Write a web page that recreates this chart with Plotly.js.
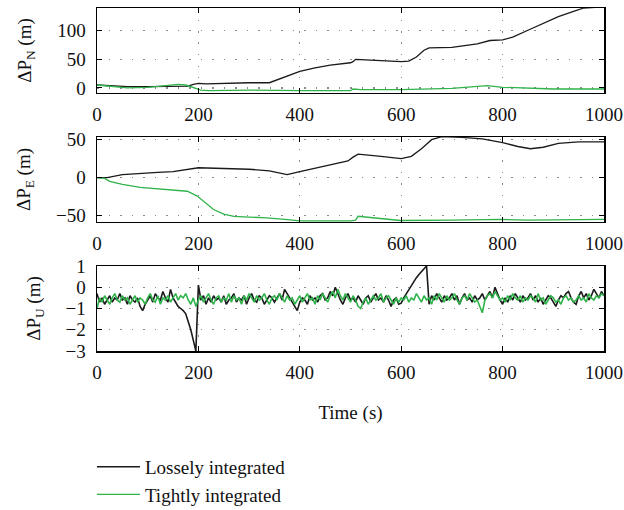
<!DOCTYPE html>
<html>
<head>
<meta charset="utf-8">
<script src="https://cdn.plot.ly/plotly-3.0.1.min.js"></script>
<style>html,body{margin:0;padding:0;background:#fff;}#chart{width:624px;height:510px;}</style>
</head>
<body>
<div id="chart"></div>
<script>
// ---------- data ----------
const seriesNames = ['Lossely integrated', 'Tightly integrated'];

// ΔP_N (m)
const tN_loose = [0,30,60,100,150,180,190,200,215,250,300,340,355,370,385,400,430,460,500,505,510,550,580,600,615,630,645,655,700,750,775,800,820,850,880,910,940,960,1000];
const vN_loose = [5,3,2,2,2,3,6,8,7,8,9,9,14,20,25,29,35,40,44,46,50,49,47,46,47,54,66,70,71,77,83,84,89,101,113,125,134,140,142];
const tN_tight = [0,30,60,100,130,160,175,190,205,220,300,400,500,505,520,600,700,770,800,900,1000];
const vN_tight = [5,3,0,1,3,6,5,0,-4,-5,-4,-5,-5,-2,-3,-3,-1,4,1,-2,-2];

// ΔP_E (m)
const tE_loose = [0,20,50,85,120,150,175,200,250,300,340,375,400,450,495,505,515,560,600,620,640,660,680,720,760,800,830,855,880,910,950,1000];
const vE_loose = [0,0,4,6,7,8,11,13,12,11,9,4,8,15,22,27,31,28,25,28,38,50,54,53,51,46,41,38,40,45,47,47];
const tE_tight = [0,15,25,50,85,120,150,178,197,215,230,250,270,300,335,370,400,500,510,515,530,560,598,700,795,850,900,1000];
const vE_tight = [0,-1,-5,-9,-13,-15,-17,-18,-24,-34,-42,-48,-51,-52,-53,-55,-57,-57,-56,-51,-52,-54,-56.5,-56,-55,-56,-55.5,-55];

// ΔP_U (m), sampled every 5 s from 0 to 1000 s
const tU_step = 5;
const vU_loose = [
 -0.3,-0.7,-0.5,-0.8,-0.6,-0.4,-0.7,-0.5,-0.6,-0.3,
 -0.6,-0.5,-0.8,-0.4,-0.6,-0.7,-0.5,-0.9,-1.1,-0.8,
 -0.6,-0.4,-0.7,-0.3,-0.5,-0.6,-0.2,-0.5,-0.7,-0.1,
 -0.5,-0.7,-0.9,-1.0,-1.1,-1.25,-1.6,-2.0,-2.5,-3.0,
 0.1,-0.6,-0.4,-0.8,-0.5,-0.7,-0.4,-0.6,-0.5,-0.7,
 -0.4,-0.8,-0.6,-0.5,-0.3,-0.7,-0.5,-0.6,-0.4,-0.8,
 -0.5,-0.3,-0.6,-0.7,-0.4,-0.5,-0.8,-0.6,-0.4,-0.5,
 -0.7,-0.5,-0.3,-0.6,-0.1,-0.3,-0.5,-0.7,-0.9,-1.1,
 -0.7,-0.5,-0.6,-0.8,-0.4,-0.6,-0.5,-0.7,-0.4,-0.3,
 -0.6,-0.5,-0.2,-0.4,0.0,-0.3,-0.6,-0.8,-0.5,-0.3,
 -0.6,-0.5,-0.7,-0.4,-0.6,-0.8,-0.5,-0.4,-0.7,-0.5,
 -0.3,-0.6,-0.5,-0.7,-0.4,-0.6,-0.9,-0.6,-0.5,-0.8,
 -0.75,-0.5,-0.3,-0.1,0.1,0.3,0.45,0.6,0.75,0.9,
 1.0,-0.8,-0.4,-0.6,-0.3,-0.5,-0.7,-0.4,-0.6,-0.5,
 -0.3,-0.6,-0.4,-0.8,-0.5,-0.3,-0.6,-0.5,-0.7,-0.4,
 -0.6,-0.5,-0.3,-0.6,-0.4,-0.2,-0.5,0.0,-0.3,-0.6,
 -0.8,-0.5,-0.7,-0.4,-0.6,-0.3,-0.5,-0.7,-0.4,-0.6,
 -0.5,-0.3,-0.6,-0.4,-0.7,-0.5,-0.8,-0.6,-0.4,-0.5,
 -0.7,-0.9,-0.6,-0.4,-0.5,-0.3,-0.2,-0.5,-0.7,-0.8,
 -0.4,-0.2,-0.5,-0.3,-0.6,-0.4,-0.1,-0.3,-0.5,-0.2,
 -0.4
];
const vU_tight = [
 -1.0,-0.5,-0.7,-0.4,-0.6,-0.8,-0.5,-0.3,-0.6,-0.7,
 -0.4,-0.6,-0.5,-0.8,-0.6,-0.4,-0.7,-0.5,-0.6,-0.8,
 -0.5,-0.3,-0.6,-0.7,-0.4,-0.8,-0.5,-0.6,-0.4,-0.7,
 -0.5,-0.3,-0.6,-0.4,-0.5,-0.3,-0.6,-0.8,-0.5,-0.9,
 -0.6,-0.4,-0.7,-0.5,-0.3,-0.6,-0.8,-0.5,-0.4,-0.7,
 -0.5,-0.6,-0.3,-0.7,-0.4,-0.6,-0.5,-0.8,-0.4,-0.6,
 -0.3,-0.5,-0.7,-0.4,-0.6,-0.5,-0.3,-0.6,-0.8,-0.5,
 -0.4,-0.6,-0.3,-0.5,-0.7,-0.4,-0.6,-0.5,-0.8,-0.6,
 -0.4,-0.7,-0.5,-0.3,-0.6,-0.5,-0.8,-0.4,-0.6,-0.3,
 -0.5,-0.7,-0.4,-0.2,-0.5,-0.1,-0.4,-0.6,-0.3,-0.5,
 -0.7,-0.4,-0.6,-0.9,-1.0,-0.7,-0.5,-0.8,-0.6,-0.4,
 -0.6,-0.5,-0.3,-0.7,-0.5,-0.4,-0.6,-0.8,-0.5,-0.7,
 -0.5,-0.6,-0.4,-0.7,-0.5,-0.6,-0.3,-0.5,-0.7,-0.4,
 -0.6,-0.5,-0.8,-0.4,-0.6,-0.3,-0.5,-0.7,-0.4,-0.6,
 -0.5,-0.3,-0.6,-0.8,-0.5,-0.4,-0.6,-0.3,-0.5,-0.7,
 -0.6,-0.9,-1.2,-0.6,-0.4,-0.3,-0.5,-0.2,-0.4,-0.6,
 -0.5,-0.7,-0.4,-0.6,-0.3,-0.5,-0.6,-0.4,-0.7,-0.5,
 -0.6,-0.4,-0.5,-0.7,-0.3,-0.6,-0.5,-0.8,-0.6,-0.4,
 -0.5,-0.7,-0.6,-0.8,-0.5,-0.4,-0.6,-0.5,-0.7,-0.6,
 -0.4,-0.6,-0.5,-0.7,-0.3,-0.5,-0.6,-0.4,-0.5,-0.3,
 -0.4
];
const tU = vU_loose.map((_, i) => i * tU_step);

const yTitles = ['ΔP<sub>N</sub> (m)', 'ΔP<sub>E</sub> (m)', 'ΔP<sub>U</sub> (m)'];
const xTitle = 'Time (s)';

// ---------- style ----------
const FONT = "'Liberation Serif', 'DejaVu Serif', serif";
const BLACK = '#1a1a1a';
const GREEN = '#2fb34a';

function line(x, y, color, name, xa, ya, show, w) {
  return {x, y, type: 'scatter', mode: 'lines', name, xaxis: xa, yaxis: ya,
          showlegend: show, line: {color, width: w}};
}

const data = [
  line(tN_loose, vN_loose, BLACK, seriesNames[0], 'x', 'y', true, 1.3),
  line(tN_tight, vN_tight, GREEN, seriesNames[1], 'x', 'y', true, 1.3),
  line(tE_loose, vE_loose, BLACK, seriesNames[0], 'x2', 'y2', false, 1.3),
  line(tE_tight, vE_tight, GREEN, seriesNames[1], 'x2', 'y2', false, 1.3),
  line(tU, vU_loose, BLACK, seriesNames[0], 'x3', 'y3', false, 1.6),
  line(tU, vU_tight, GREEN, seriesNames[1], 'x3', 'y3', false, 1.6)
];

const common = {
  showline: true, linecolor: '#000', linewidth: 1.5, mirror: 'allticks',
  ticks: 'inside', ticklen: 5, tickcolor: '#000', tickwidth: 1.2,
  showgrid: true, gridcolor: '#8a8a8a', gridwidth: 1.3, griddash: '1.5px,10px',
  zeroline: false, tickfont: {family: FONT, size: 19, color: '#111'}
};

function xax(anchor, title) {
  const a = Object.assign({}, common, {anchor, range: [0, 1000], tick0: 0, dtick: 200, ticklabelstandoff: 4});
  if (title) a.title = {text: title, font: {family: FONT, size: 19, color: '#111'}, standoff: 23};
  return a;
}
function yax(anchor, domain, range, dtick, title) {
  return Object.assign({}, common, {anchor, domain, range, dtick, ticklabelstandoff: 6,
    title: {text: title, font: {family: FONT, size: 19, color: '#111'}, standoff: 20}});
}

const layout = {
  width: 624, height: 510,
  margin: {l: 97, r: 20, t: 8, b: 159, autoexpand: false},
  paper_bgcolor: '#fff', plot_bgcolor: '#fff',
  font: {family: FONT, size: 19, color: '#111'},
  xaxis: xax('y'),
  xaxis2: xax('y2'),
  xaxis3: xax('y3', xTitle),
  yaxis: yax('x', [0.7522, 1], [-9, 140], 50, yTitles[0]),
  yaxis2: yax('x2', [0.3761, 0.6239], [-58.5, 53.5], 50, yTitles[1]),
  yaxis3: yax('x3', [0, 0.2478], [-3, 1], 1, yTitles[2]),
  showlegend: true,
  legend: {x: -0.01, xanchor: 'left', y: -0.2825, yanchor: 'top', bgcolor: 'rgba(0,0,0,0)',
           itemwidth: 43, font: {family: FONT, size: 19, color: '#111'}, tracegroupgap: 0}
};

Plotly.newPlot('chart', data, layout, {displayModeBar: false, staticPlot: true});
</script>
</body>
</html>
